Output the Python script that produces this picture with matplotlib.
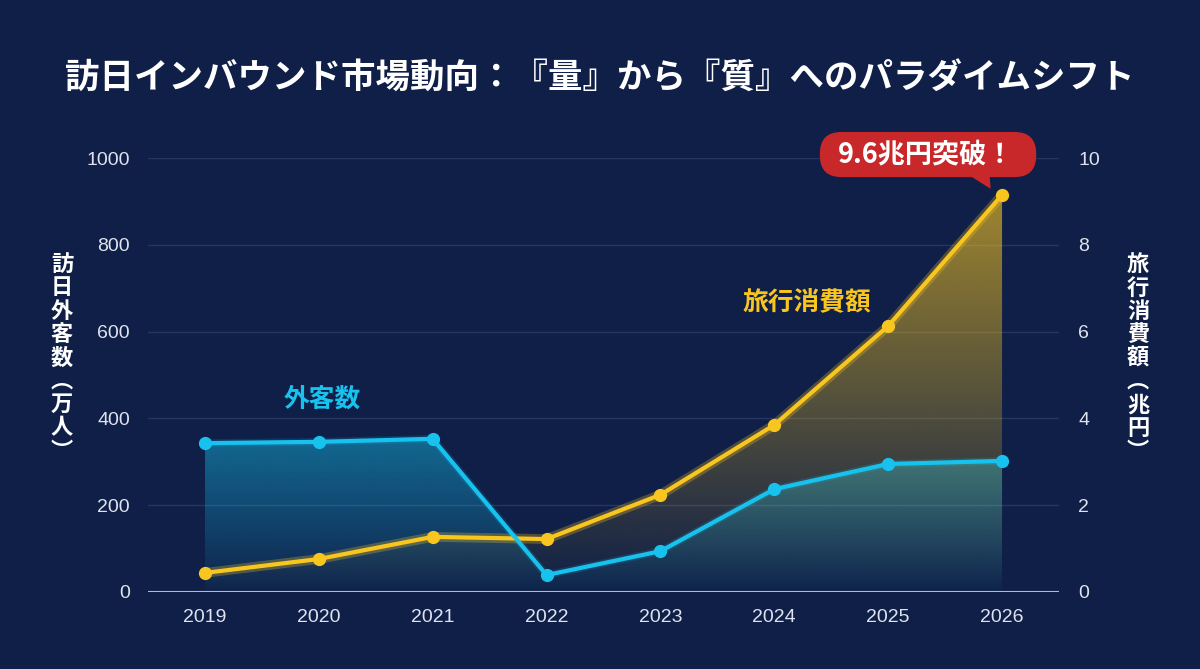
import numpy as np
import matplotlib
matplotlib.use("Agg")
import matplotlib.pyplot as plt
from matplotlib.patches import Polygon, FancyBboxPatch
from matplotlib.colors import to_rgb

plt.rcParams['font.family'] = ['Noto Sans CJK JP', 'DejaVu Sans']

# データ
years = ['2019', '2020', '2021', '2022', '2023', '2024', '2025', '2026']
visitors = [343, 346, 353, 39, 94, 237, 295, 302]          # 万人
spending = [0.44, 0.76, 1.27, 1.22, 2.24, 3.85, 6.13, 9.15]  # 兆円
left_ticks = [0, 200, 400, 600, 800, 1000]
right_ticks = [0, 2, 4, 6, 8, 10]

BG = '#0f1f47'
BLUE = '#17c3ee'
YELLOW = '#f9c620'
RED = '#c8282a'
TXT = '#dfe3ee'
GRID = '#26365e'

x = np.arange(len(years))

fig = plt.figure(figsize=(12, 6.69), dpi=100, facecolor=BG)
ax = fig.add_axes([0.1233, 0.1151, 0.7592, 0.6487])
ax.set_facecolor(BG)
ax2 = ax.twinx()
ax2.patch.set_visible(False)

ax.set_xlim(-0.5, len(years) - 0.5)
ax.set_ylim(0, 1000)
ax2.set_ylim(0, 10)


def grad_fill(xs, ys, color, a_top, a_bot, ymax, tr, z):
    verts = [(xs[0], 0)] + list(zip(xs, ys)) + [(xs[-1], 0)]
    poly = Polygon(verts, closed=True, fc='none', ec='none', transform=tr)
    ax.add_patch(poly)
    n = 256
    img = np.zeros((n, 1, 4))
    img[:, :, :3] = to_rgb(color)
    img[:, 0, 3] = np.linspace(a_top, a_bot, n)
    im = ax.imshow(img, aspect='auto', extent=[xs[0], xs[-1], 0, ymax],
                   origin='upper', interpolation='bilinear', zorder=z)
    im.set_transform(tr)
    im.set_clip_path(poly)


# グラデーション塗り
grad_fill(x, visitors, BLUE, 0.45, 0.03, max(visitors), ax.transData, 1)
grad_fill(x, spending, YELLOW, 0.62, 0.0, max(spending), ax2.transData, 2)

# 線（グロー + 本体）
ax.plot(x, spending, color=YELLOW, lw=7, alpha=0.28, zorder=3,
        transform=ax2.transData, solid_capstyle='round')
ax.plot(x, spending, color=YELLOW, lw=3, marker='o', ms=8.5, zorder=4,
        transform=ax2.transData)
ax.plot(x, visitors, color=BLUE, lw=5.5, alpha=0.15, zorder=3,
        solid_capstyle='round')
ax.plot(x, visitors, color=BLUE, lw=3, marker='o', ms=8.5, zorder=5)

# 軸
ax.set_yticks(left_ticks)
ax2.set_yticks(right_ticks)
ax.set_xticks(x)
ax.set_xticklabels(years)
ax.grid(axis='y', color=GRID, lw=1)
ax.set_axisbelow(True)
for a in (ax, ax2):
    for s in a.spines.values():
        s.set_visible(False)
    a.tick_params(length=0, labelcolor=TXT, labelsize=14)
    for lab in a.get_xticklabels() + a.get_yticklabels():
        lab.set_family(['Liberation Sans', 'DejaVu Sans'])
ax.tick_params(axis='y', pad=13)
ax.tick_params(axis='x', pad=12)
ax2.tick_params(axis='y', pad=14)
ax.axhline(0, color='#b4bacb', lw=1.5, zorder=3)

# 縦書きラベル
fig.text(62 / 1200, 1 - 358 / 669, '\n'.join('訪日外客数︵万人︶'),
         color='white', fontsize=16, fontweight='bold',
         ha='center', va='center', linespacing=1.02)
fig.text(1138 / 1200, 1 - 358 / 669, '\n'.join('旅行消費額︵兆円︶'),
         color='white', fontsize=16, fontweight='bold',
         ha='center', va='center', linespacing=1.02)

# タイトル
fig.text(0.5, 1 - 78 / 669, '訪日インバウンド市場動向：『量』から『質』へのパラダイムシフト',
         color='white', fontsize=24.8, fontweight='bold', ha='center', va='center')

# 系列ラベル
ax.text(1.03, 444, '外客数', color=BLUE, fontsize=18.5, fontweight='bold',
        ha='center', va='center')
ax2.text(5.29, 6.68, '旅行消費額', color=YELLOW, fontsize=18.5, fontweight='bold',
         ha='center', va='center')

# 吹き出し
box = FancyBboxPatch((5.40, 9.56), 1.90, 1.04,
                     boxstyle='round,pad=0,rounding_size=0.19',
                     mutation_aspect=2.62, fc=RED, ec='none',
                     transform=ax2.transData, clip_on=False, zorder=10)
ax.add_patch(box)
tail = Polygon([(6.70, 9.62), (6.89, 9.62), (6.90, 9.29)], closed=True,
               fc=RED, ec='none', transform=ax2.transData, clip_on=False, zorder=10)
ax.add_patch(tail)
ax2.text(6.33, 10.08, '9.6兆円突破！', color='white', fontsize=19.5,
         fontweight='bold', ha='center', va='center', zorder=11)

fig.savefig('out.png', dpi=100, facecolor=BG)
